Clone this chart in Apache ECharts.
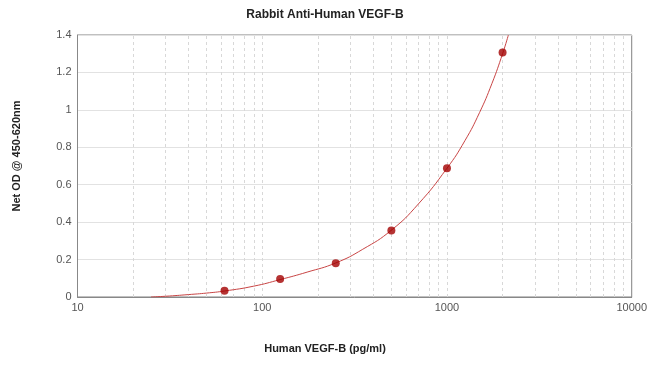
<!DOCTYPE html>
<html>
<head>
<meta charset="utf-8">
<script src="https://cdn.jsdelivr.net/npm/echarts@6/dist/echarts.min.js"></script>
<style>
html,body{margin:0;padding:0;background:#fff;}
#chart{width:650px;height:374px;}
</style>
</head>
<body>
<div id="chart"></div>
<script>
// Standard points
const stdConc = [62.5, 125, 250, 500, 1000, 2000];
const stdOD = [0.033, 0.096, 0.180, 0.356, 0.688, 1.306];
// Fitted curve
const curveConc = [25, 30, 40, 50, 62.5, 90, 125, 175, 250, 350, 500, 700, 1000, 1250, 1500, 1750, 2000, 2150];
const curveOD = [0.000, 0.004, 0.013, 0.021, 0.032, 0.058, 0.093, 0.133, 0.182, 0.255, 0.357, 0.497, 0.688, 0.835, 0.985, 1.140, 1.300, 1.400];
// Minor vertical grid values on the log axis
const xGridValues = [20, 30, 40, 50, 60, 70, 80, 90, 100, 200, 300, 400, 500, 600, 700, 800, 900, 1000, 2000, 3000, 4000, 5000, 6000, 7000, 8000, 9000];
const xTicks = [10, 100, 1000, 10000];
const yTicks = [0, 0.2, 0.4, 0.6, 0.8, 1, 1.2, 1.4];

const chart = echarts.init(document.getElementById('chart'), null, {renderer: 'canvas'});
const font = 'Liberation Sans, Arial, sans-serif';
chart.setOption({
  animation: false,
  backgroundColor: '#fff',
  title: [
    {text: 'Rabbit Anti-Human VEGF-B', left: 'center', top: 4,
     textStyle: {fontFamily: font, fontSize: 12, fontWeight: 'bold', color: '#222'}},
    {text: 'Human VEGF-B (pg/ml)', left: 'center', top: 338,
     textStyle: {fontFamily: font, fontSize: 11, fontWeight: 'bold', color: '#222'}}
  ],
  grid: {left: 77.5, right: 16, top: 35, bottom: 77, show: true, borderColor: '#808080', borderWidth: 1, backgroundColor: '#fff'},
  xAxis: {
    type: 'log', logBase: 10, min: xTicks[0], max: xTicks[xTicks.length - 1],
    axisLine: {lineStyle: {color: '#888'}},
    axisTick: {show: false},
    axisLabel: {fontFamily: font, fontSize: 11, color: '#555', margin: 5, formatter: v => String(v)},
    splitLine: {show: false}
  },
  yAxis: {
    type: 'value', min: yTicks[0], max: yTicks[yTicks.length - 1], interval: 0.2,
    name: 'Net OD @ 450-620nm', nameLocation: 'middle', nameGap: 55,
    nameTextStyle: {fontFamily: font, fontSize: 11, fontWeight: 'bold', color: '#222', padding: [0, 0, 0, 20]},
    axisLine: {show: true, lineStyle: {color: '#888'}},
    axisTick: {show: false},
    axisLabel: {fontFamily: font, fontSize: 11, color: '#555', margin: 6},
    splitLine: {show: true, lineStyle: {color: '#e2e2e2', width: 1}}
  },
  series: [
    {
      type: 'line', data: [], silent: true, z: 1,
      markLine: {
        silent: true, symbol: 'none', label: {show: false}, z: 1,
        lineStyle: {color: '#d8d8d8', type: [3, 3], width: 1},
        data: xGridValues.map(v => ({xAxis: v}))
      }
    },
    {
      type: 'line', smooth: 0.5, showSymbol: false, clip: true,
      data: curveConc.map((c, i) => [c, curveOD[i]]),
      lineStyle: {color: '#c84545', width: 1},
      z: 3
    },
    {
      type: 'scatter', symbolSize: 8,
      data: stdConc.map((c, i) => [c, stdOD[i]]),
      itemStyle: {color: '#a30000'},
      z: 4
    }
  ]
});
</script>
</body>
</html>
